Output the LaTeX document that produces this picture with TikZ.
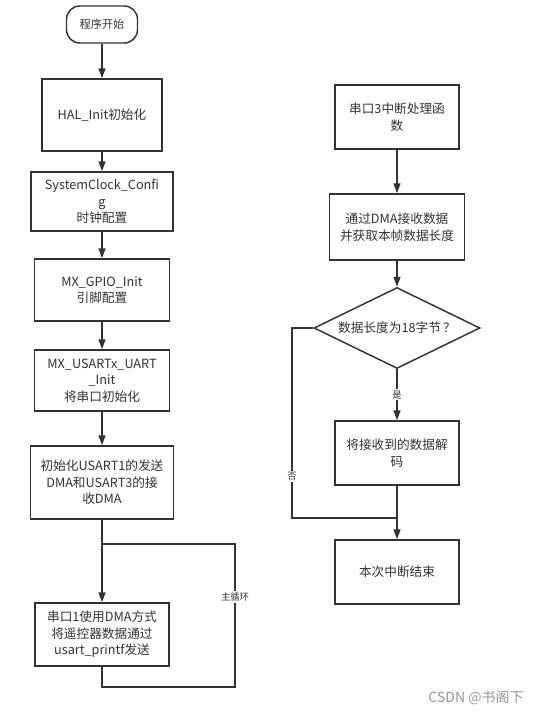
\documentclass[tikz,border=0pt]{standalone}
\usepackage{fontspec}
\setmainfont{Noto Sans CJK SC}
\usetikzlibrary{arrows.meta,shapes.geometric}

\definecolor{flowline}{RGB}{51,51,51}
\definecolor{markgray}{RGB}{150,150,150}

\tikzset{every picture/.style={line width=1.1pt}}
\tikzset{
  procbox/.style={draw=flowline,rectangle,inner sep=0pt,align=center,text=flowline,
    font=\fontsize{9.5}{12.4}\selectfont},
  termbox/.style={procbox,rounded corners=10pt,font=\fontsize{8.4}{10}\selectfont},
  decbox/.style={procbox,diamond,aspect=2},
  flowarrow/.style={draw=flowline,-{Triangle[length=7.5pt,width=5.25pt]}},
  flowline/.style={draw=flowline},
  branchlabel/.style={fill=white,inner sep=1pt,text=flowline,font=\fontsize{7}{8}\selectfont},
}

\begin{document}
\begin{tikzpicture}[x=0.75pt,y=0.75pt,yscale=-1,xscale=1]
\useasboundingbox (0,0) rectangle (541,715);

%Left column: main program
\node[termbox,minimum width=53.25pt,minimum height=27.75pt] (start) at (102,24.5) {程序开始};
\node[procbox,minimum width=90pt,minimum height=54pt] (hal) at (102,115) {HAL\_Init初始化};
\node[procbox,minimum width=106.5pt,minimum height=44.25pt] (clk) at (102,201.5) {SystemClock\_Confi\\g\\时钟配置};
\node[procbox,minimum width=101.25pt,minimum height=46.5pt] (gpio) at (102,290) {MX\_GPIO\_Init\\引脚配置};
\node[procbox,minimum width=101.25pt,minimum height=45.75pt] (uart) at (102,380.5) {MX\_USARTx\_UART\\\_Init\\将串口初始化};
\node[procbox,minimum width=107.25pt,minimum height=54.75pt] (dmainit) at (102,482.5) {初始化USART1的发送\\DMA和USART3的接\\收DMA};
\node[procbox,minimum width=100.5pt,minimum height=47.25pt] (send) at (102,634.5) {串口1使用DMA方式\\将遥控器数据通过\\usart\_printf发送};

\coordinate (looptop) at (235,544);
\coordinate (loopbot) at (235,687);

\draw[flowarrow] (start) -- (hal);
\draw[flowarrow] (hal) -- (clk);
\draw[flowarrow] (clk) -- (gpio);
\draw[flowarrow] (gpio) -- (uart);
\draw[flowarrow] (uart) -- (dmainit);
\draw[flowarrow] (dmainit) -- (send);
%main loop
\draw[flowline] (send.south) -- (send.south |- loopbot) -- (loopbot)
  -- node[branchlabel,pos=0.63] {主循环} (looptop) -- (dmainit.south |- looptop);

%Right column: interrupt handler
\node[procbox,minimum width=93pt,minimum height=48pt] (irq) at (397,117) {串口3中断处理函\\数};
\node[procbox,minimum width=101.25pt,minimum height=49.5pt] (dmarx) at (397,227) {通过DMA接收数据\\并获取本帧数据长度};
\node[decbox,minimum width=124.5pt,minimum height=60.75pt] (check) at (397,328) {数据长度为18字节\,？};
\node[procbox,minimum width=93pt,minimum height=48pt] (decode) at (397,453) {将接收到的数据解\\码};
\node[procbox,minimum width=93pt,minimum height=48pt] (done) at (397,572) {本次中断结束};

\coordinate (nocorner) at (292,518);

\draw[flowarrow] (irq) -- (dmarx);
\draw[flowarrow] (dmarx) -- (check);
\draw[flowarrow] (check) -- node[branchlabel,pos=0.5] {是} (decode);
\draw[flowarrow] (decode) -- (done);
\draw[flowline] (check.west) -- (check.west -| nocorner)
  -- node[branchlabel,pos=0.78] {否} (nocorner) -- (nocorner -| done.north);

\node[text=markgray,font=\fontsize{10.5}{12}\selectfont,inner sep=0pt] (mark) at (476,698) {CSDN @书阁下};

\end{tikzpicture}
\end{document}
